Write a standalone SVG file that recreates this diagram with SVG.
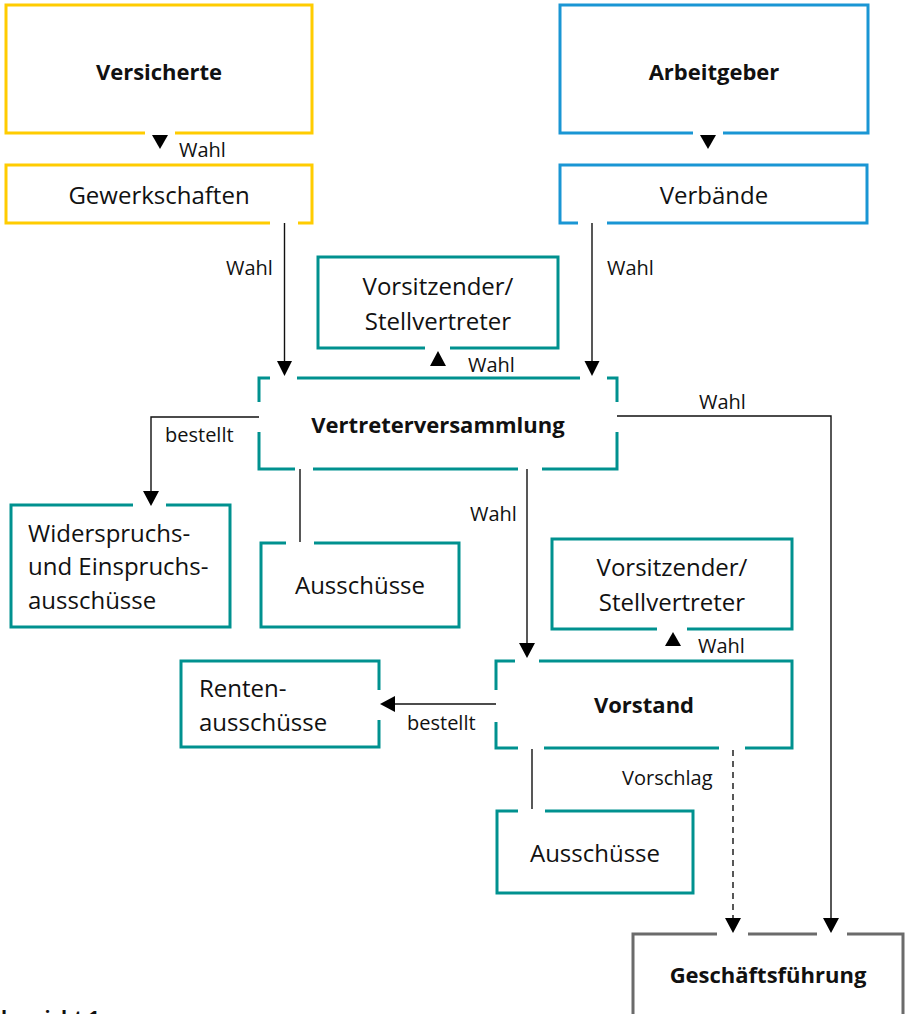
<svg xmlns="http://www.w3.org/2000/svg" width="905" height="1014" viewBox="0 0 905 1014">
<style>
.box{fill:none;stroke-width:3;stroke-linecap:butt;stroke-linejoin:miter}
.y{stroke:#FFCC00}
.b{stroke:#1A96D4}
.t{stroke:#00918F}
.g{stroke:#6B6B6B}
.txt{font-family:"Open Sans","Noto Sans",sans-serif;font-size:24px;fill:#111}
.bold{font-family:"Open Sans","Noto Sans",sans-serif;font-size:22px;font-weight:bold;fill:#111}
.lbl{font-family:"Open Sans","Noto Sans",sans-serif;font-size:20px;fill:#111}
.ln{fill:none;stroke:#111;stroke-width:1.4}
.dash{stroke-dasharray:6,5}
.ah{fill:#000}
</style>
<rect width="905" height="1014" fill="#fff"/>

<g id="versicherte">
<path class="box y" d="M145,133 H6 V5 H312 V133 H175"/>
<text class="bold" x="159" y="80" text-anchor="middle">Versicherte</text>
</g>
<g id="gewerkschaften">
<path class="box y" d="M270,223 H6 V165 H312 V223 H298"/>
<text class="txt" x="159" y="204" text-anchor="middle">Gewerkschaften</text>
</g>
<g id="arbeitgeber">
<path class="box b" d="M693,133 H560 V5 H868 V133 H723"/>
<text class="bold" x="714" y="80" text-anchor="middle">Arbeitgeber</text>
</g>
<g id="verbaende">
<path class="box b" d="M578,223 H560 V165 H867 V223 H607"/>
<text class="txt" x="714" y="204" text-anchor="middle">Verbände</text>
</g>
<g id="vorsitzender1">
<path class="box t" d="M425,348 H318 V257 H558 V348 H450"/>
<text class="txt" x="438" y="295" text-anchor="middle">Vorsitzender/</text>
<text class="txt" x="438" y="330" text-anchor="middle">Stellvertreter</text>
</g>
<g id="vertreterversammlung">
<path class="box t" d="M259,402 V378 H270 M297,378 H580 M607,378 H617 V402 M617,432 V469 H542 M518,469 H313 M295,469 H259 V432"/>
<text class="bold" x="438" y="433" text-anchor="middle">Vertreterversammlung</text>
</g>
<g id="widerspruch">
<path class="box t" d="M133,505 H11 V627 H230 V505 H166"/>
<text class="txt" x="28" y="542">Widerspruchs-</text>
<text class="txt" x="28" y="575">und Einspruchs-</text>
<text class="txt" x="28" y="609">ausschüsse</text>
</g>
<g id="ausschuesse1">
<path class="box t" d="M286,543 H261 V627 H459 V543 H314"/>
<text class="txt" x="360" y="594" text-anchor="middle">Ausschüsse</text>
</g>
<g id="vorsitzender2">
<path class="box t" d="M657,629 H552 V539 H792 V629 H687"/>
<text class="txt" x="672" y="576" text-anchor="middle">Vorsitzender/</text>
<text class="txt" x="672" y="611" text-anchor="middle">Stellvertreter</text>
</g>
<g id="vorstand">
<path class="box t" d="M496,690 V661 H515 M539,661 H792 V748 H745 M719,748 H544 M518,748 H496 V722"/>
<text class="bold" x="644" y="713" text-anchor="middle">Vorstand</text>
</g>
<g id="renten">
<path class="box t" d="M379,690 V661 H181 V747 H379 V720"/>
<text class="txt" x="199" y="697">Renten-</text>
<text class="txt" x="199" y="731">ausschüsse</text>
</g>
<g id="ausschuesse2">
<path class="box t" d="M518,811 H497 V893 H693 V811 H545"/>
<text class="txt" x="595" y="862" text-anchor="middle">Ausschüsse</text>
</g>
<g id="geschaeftsfuehrung">
<path class="box g" d="M717,934 H633 V1030 M903,1030 V934 H847 M817,934 H748"/>
<text class="bold" x="768" y="983" text-anchor="middle">Geschäftsführung</text>
</g>

<g id="connectors">
<polygon class="ah" points="152,135 168,135 160,149"/>
<text class="lbl" x="179" y="157">Wahl</text>
<polygon class="ah" points="700,135 716,135 708,149"/>

<line class="ln" x1="284.5" y1="223" x2="284.5" y2="362"/>
<polygon class="ah" points="277,361 292,361 284.5,376"/>
<text class="lbl" x="226" y="275">Wahl</text>

<line class="ln" x1="592" y1="223" x2="592" y2="362"/>
<polygon class="ah" points="584.5,361 599.5,361 592,376"/>
<text class="lbl" x="607" y="275">Wahl</text>

<polygon class="ah" points="430,366 446,366 438,351"/>
<text class="lbl" x="468" y="372">Wahl</text>

<path class="ln" d="M259,417 H151 V492"/>
<polygon class="ah" points="143,491 159,491 151,506"/>
<text class="lbl" x="165" y="442">bestellt</text>

<line class="ln" x1="300" y1="469" x2="300" y2="542"/>

<line class="ln" x1="527" y1="469" x2="527" y2="644"/>
<polygon class="ah" points="519,643 535,643 527,658"/>
<text class="lbl" x="470" y="521">Wahl</text>

<polygon class="ah" points="665,646 681,646 673,632"/>
<text class="lbl" x="698" y="653">Wahl</text>

<line class="ln" x1="496" y1="704" x2="394" y2="704"/>
<polygon class="ah" points="395,696 395,712 380,704"/>
<text class="lbl" x="407" y="730">bestellt</text>

<line class="ln" x1="532" y1="749" x2="532" y2="809"/>

<line class="ln dash" x1="733" y1="750" x2="733" y2="919"/>
<polygon class="ah" points="725,918 741,918 733,933"/>
<text class="lbl" x="622" y="785">Vorschlag</text>

<path class="ln" d="M617,416 H831 V919"/>
<polygon class="ah" points="823,918 839,918 831,933"/>
<text class="lbl" x="699" y="409">Wahl</text>
</g>
<text class="bold" x="-14" y="1025" style="font-size:20px">Übersicht 1</text>
</svg>
